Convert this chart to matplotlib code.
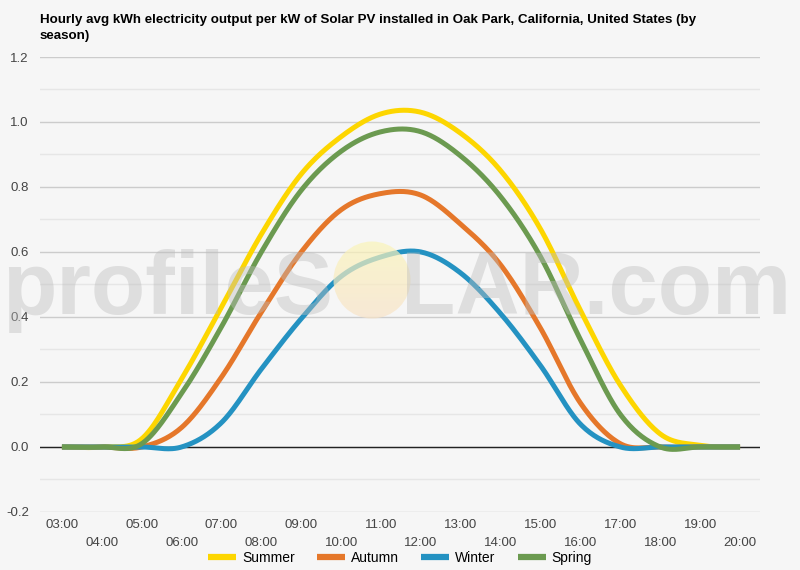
import numpy as np
import matplotlib
matplotlib.use("Agg")
from matplotlib import pyplot as plt
from matplotlib.patches import Circle
from matplotlib.ticker import FixedLocator, MultipleLocator

# === Data ===
hours = ["03:00", "04:00", "05:00", "06:00", "07:00", "08:00", "09:00", "10:00", "11:00",
         "12:00", "13:00", "14:00", "15:00", "16:00", "17:00", "18:00", "19:00", "20:00"]
summer = [0, 0, 0.025, 0.21, 0.43, 0.655, 0.84, 0.955, 1.025, 1.03, 0.965, 0.85, 0.67, 0.42, 0.19, 0.04, 0.005, 0]
autumn = [0, 0, 0, 0.06, 0.215, 0.415, 0.60, 0.73, 0.78, 0.775, 0.685, 0.56, 0.365, 0.135, 0.01, 0, 0, 0]
winter = [0, 0, 0, 0, 0.075, 0.24, 0.395, 0.525, 0.585, 0.60, 0.535, 0.41, 0.25, 0.07, 0, 0, 0, 0]
spring = [0, 0, 0.01, 0.165, 0.37, 0.60, 0.79, 0.91, 0.97, 0.97, 0.895, 0.77, 0.585, 0.33, 0.10, 0, 0, 0]

series = [("Summer", summer, "#fdd600"),
          ("Autumn", autumn, "#e5772a"),
          ("Winter", winter, "#2492c2"),
          ("Spring", spring, "#6b9a50")]


def smooth(y, n=30):
    # catmull-rom curve through the points (chart uses a "function" curve)
    y = np.asarray(y, dtype=float)
    p = np.concatenate([[y[0]], y, [y[-1]]])
    xs, ys = [], []
    t = np.linspace(0, 1, n, endpoint=False)
    for i in range(len(y) - 1):
        p0, p1, p2, p3 = p[i], p[i + 1], p[i + 2], p[i + 3]
        m1 = (p2 - p0) / 2
        m2 = (p3 - p1) / 2
        h00 = 2 * t**3 - 3 * t**2 + 1
        h10 = t**3 - 2 * t**2 + t
        h01 = -2 * t**3 + 3 * t**2
        h11 = t**3 - t**2
        xs.append(i + t)
        ys.append(h00 * p1 + h10 * m1 + h01 * p2 + h11 * m2)
    xs.append([len(y) - 1])
    ys.append([y[-1]])
    return np.concatenate(xs), np.concatenate(ys)


plt.rcParams["font.family"] = ["Liberation Sans", "DejaVu Sans"]
bg = "#f6f6f6"
fig = plt.figure(figsize=(8, 5.7), dpi=100, facecolor=bg)
ax = fig.add_axes([0.05, 0.1018, 0.90, 0.7982], facecolor=bg)

for name, vals, col in series:
    sx, sy = smooth(vals)
    ax.plot(sx, sy, color=col, lw=3.6, label=name, solid_capstyle="butt", zorder=3)

ax.axhline(0, color="#222222", lw=1, zorder=2)

ax.set_ylim(-0.2, 1.2)
ax.set_xlim(-0.55, 17.5)
ax.yaxis.set_major_locator(MultipleLocator(0.2))
ax.yaxis.set_minor_locator(MultipleLocator(0.1))
ax.set_yticklabels([f"{v:.1f}" for v in ax.get_yticks()])
ax.grid(axis="y", which="major", color="#cccccc", lw=1, zorder=0)
ax.grid(axis="y", which="minor", color="#e6e6e6", lw=1, zorder=0)
ax.tick_params(axis="y", which="both", length=0, pad=8, labelsize=9.5, labelcolor="#444444")

# staggered x labels: odd rows on top, even rows below
idx = np.arange(len(hours))
ax.xaxis.set_major_locator(FixedLocator(idx[::2]))
ax.xaxis.set_minor_locator(FixedLocator(idx[1::2]))
ax.set_xticklabels(hours[::2])
ax.set_xticklabels(hours[1::2], minor=True)
ax.tick_params(axis="x", which="major", length=0, pad=5, labelsize=9.5, labelcolor="#444444")
ax.tick_params(axis="x", which="minor", length=0, pad=18, labelsize=9.5, labelcolor="#444444")

for s in ax.spines.values():
    s.set_visible(False)

# watermark
wm = dict(fontsize=64, fontweight="bold", color="#bdbdbd", alpha=0.42, va="baseline", zorder=10)
fig.text(333 / 800, 1 - 314 / 570, "profileS", ha="right", **wm)
fig.text(401 / 800, 1 - 314 / 570, "LAR.com", ha="left", **wm)

# sun in place of the "O"
sax = fig.add_axes([0, 0, 1, 1], facecolor="none")
sax.set_xlim(0, 800)
sax.set_ylim(570, 0)
sax.axis("off")
grad = np.linspace(0, 1, 100)[:, None]
cmap = matplotlib.colors.LinearSegmentedColormap.from_list("sun", ["#fbf5b8", "#f8e3c8"])
img = sax.imshow(grad, cmap=cmap, extent=(333, 411, 319, 241), aspect="auto", alpha=0.7)
clip = Circle((372, 280), 38.5, transform=sax.transData)
img.set_clip_path(clip)

fig.text(40 / 800, 1 - 28 / 570,
         "Hourly avg kWh electricity output per kW of Solar PV installed in Oak Park, California, United States (by\nseason)",
         ha="left", va="center", fontsize=9.6, fontweight="bold", linespacing=1.5)

handles, labels = ax.get_legend_handles_labels()
leg = fig.legend(handles, labels, loc="center", bbox_to_anchor=(0.5, 1 - 558 / 570), ncol=4,
                 frameon=False, fontsize=10, handlelength=2.0, handletextpad=0.45,
                 columnspacing=1.6)
for h in leg.get_lines():
    h.set_linewidth(4.5)

fig.savefig("out.png", dpi=100, facecolor=bg)
